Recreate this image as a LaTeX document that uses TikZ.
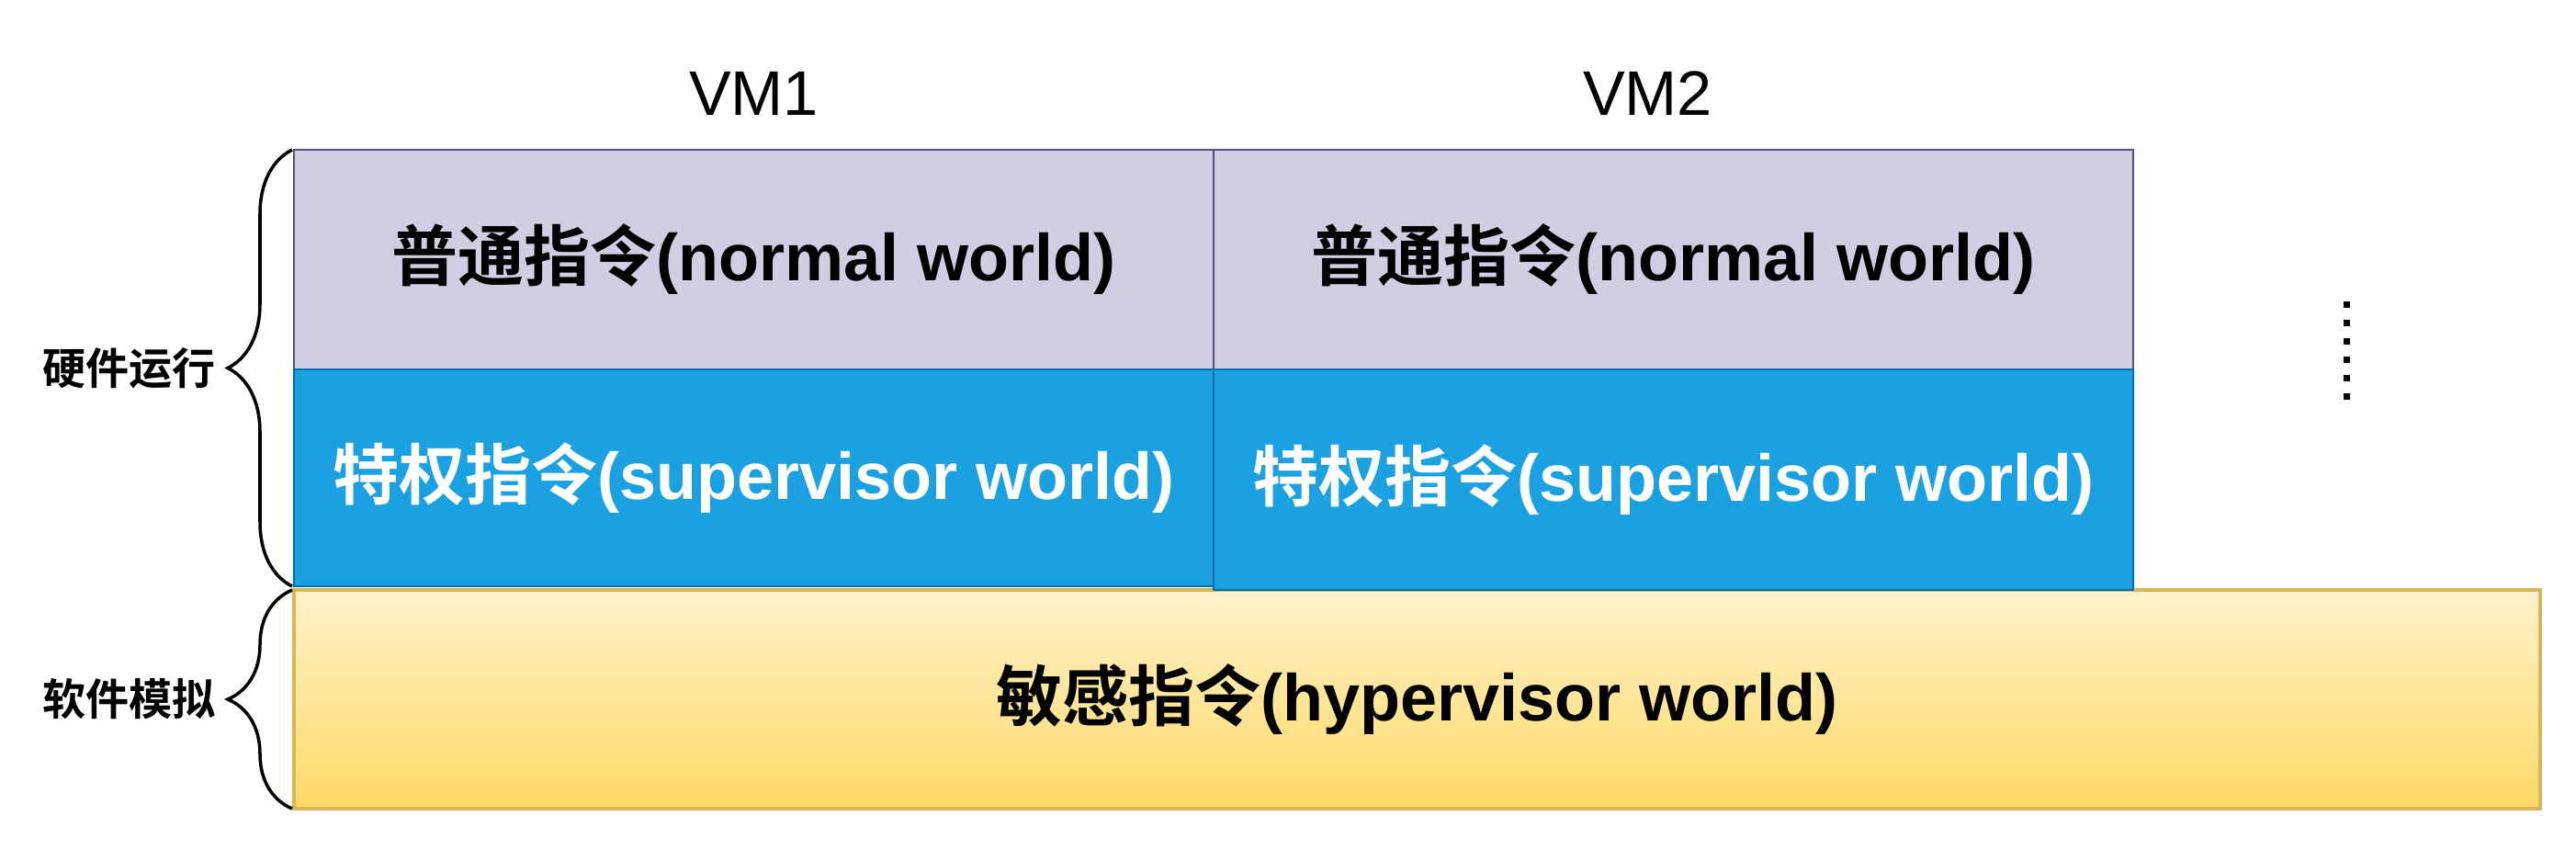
\documentclass[tikz,border=0pt]{standalone}
\usepackage{fontspec}
\setmainfont{Liberation Sans}
\newfontfamily\cjkfont{Noto Sans CJK SC}[BoldFont={Noto Sans CJK SC Bold}]
\newcommand{\cn}[1]{{\cjkfont #1}}
\usepackage{tikz}
\usetikzlibrary{positioning, decorations.pathreplacing}

\definecolor{normfill}{HTML}{D0CEE2}
\definecolor{normline}{HTML}{56517E}
\definecolor{privfill}{HTML}{1BA1E2}
\definecolor{privline}{HTML}{006EAF}
\definecolor{hyptop}{HTML}{FFF2CC}
\definecolor{hypbot}{HTML}{FFD966}
\definecolor{hypline}{HTML}{D6B656}

\begin{document}
\begin{tikzpicture}[
    node distance=0cm,
    every node/.style={outer sep=0pt},
    normbox/.style={draw=normline, fill=normfill, line width=0.7pt, minimum width=10.01cm, minimum height=2.39cm, font=\fontsize{20.5}{24}\selectfont\bfseries},
    privbox/.style={draw=privline, fill=privfill, line width=0.7pt, minimum width=10.01cm, minimum height=2.36cm, text=white, font=\fontsize{20.5}{24}\selectfont\bfseries},
    hypbox/.style={draw=hypline, top color=hyptop, bottom color=hypbot, line width=0.9pt, minimum width=24.45cm, minimum height=2.38cm, font=\fontsize{20.5}{24}\selectfont\bfseries},
    vmlabel/.style={font=\fontsize{19.5}{23}\selectfont},
    sidelabel/.style={inner sep=0pt, font=\fontsize{13.4}{16}\selectfont\bfseries},
    curly/.style={decorate, decoration={brace, amplitude=0.7cm}, line width=1pt}
]
\useasboundingbox (0,0) rectangle (28.04,-9.24);

% VM1 column
\node[normbox, anchor=north west] (norm1) at (3.20,-1.63) {\cn{普通指令}(normal world)};
\node[privbox, below=of norm1] (priv1) {\cn{特权指令}(supervisor world)};

% VM2 column
\node[normbox, right=of norm1] (norm2) {\cn{普通指令}(normal world)};

% Hypervisor layer
\node[hypbox, anchor=north west] (hyp) at (3.20,-6.42) {\cn{敏感指令}(hypervisor world)};
\node[privbox, minimum height=2.40cm, anchor=north west] (priv2) at (norm2.south west) {\cn{特权指令}(supervisor world)};

% Column titles
\node[vmlabel, above=0.26cm of norm1] (vm1) {VM1};
\node[vmlabel, above=0.26cm of norm2, xshift=-0.28cm] (vm2) {VM2};

% More VMs
\foreach \i in {0,...,5}
  \fill (25.51,-3.28-0.2*\i) rectangle ++(0.07,-0.07);

% Braces
\draw[curly] ([xshift=-0.02cm]priv1.south west) -- ([xshift=-0.02cm]norm1.north west)
  coordinate[midway] (hwmid);
\draw[curly] ([xshift=-0.02cm]hyp.south west) -- ([xshift=-0.02cm]hyp.north west)
  coordinate[midway] (swmid);
\node[sidelabel, left=0.83cm of hwmid] (hw) {\cn{硬件运行}};
\node[sidelabel, left=0.83cm of swmid] (sw) {\cn{软件模拟}};

\end{tikzpicture}
\end{document}
